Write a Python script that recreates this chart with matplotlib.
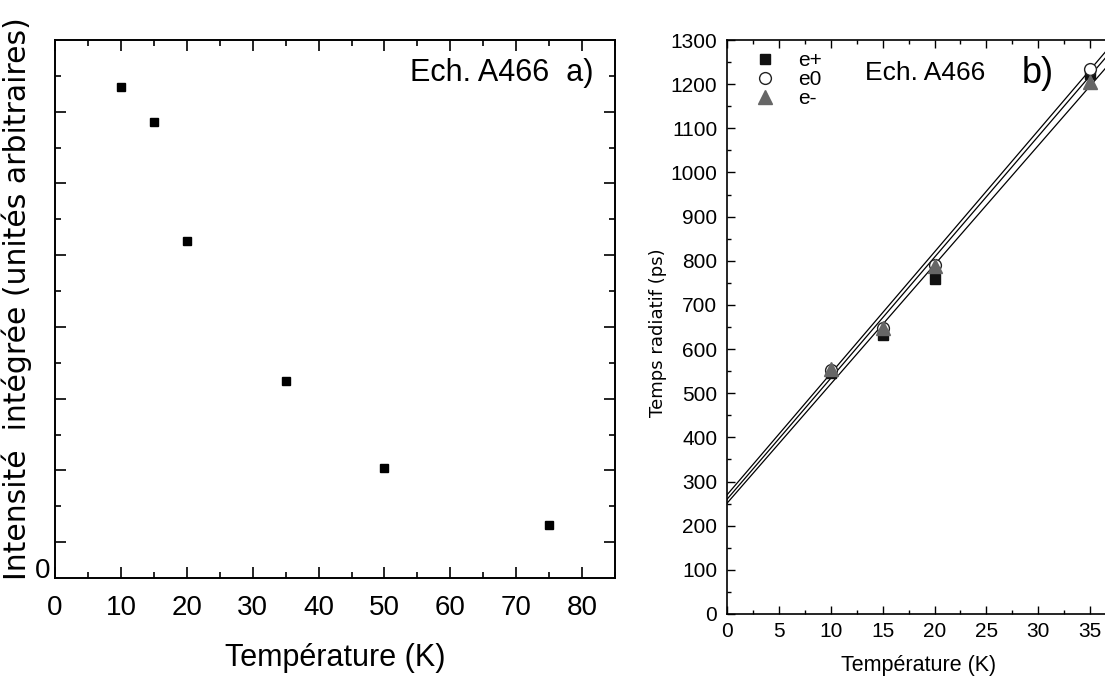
import matplotlib
matplotlib.use("Agg")
import matplotlib.pyplot as plt
import numpy as np
from matplotlib.ticker import MultipleLocator, NullFormatter

# panel a) : integrated intensity vs temperature (arbitrary units)
temp_a = [10, 15, 20, 35, 50, 75]
intensity_a = [6.85, 6.35, 4.70, 2.75, 1.53, 0.74]

# panel b) : radiative lifetime vs temperature
temp_b = [10, 15, 20, 35]
tau_eplus = [546, 631, 759, 1224]
tau_ezero = [553, 647, 790, 1234]
tau_eminus = [556, 647, 788, 1204]
# linear fits drawn in panel b) (intercept in ps, slope in ps/K)
fit_intercepts = [270, 260, 251]
fit_slopes = [27.5, 27.4, 27.0]

ARIAL = ['Liberation Sans', 'DejaVu Sans']

fig = plt.figure(figsize=(11.05, 6.78), dpi=100)

# ---------------- panel a)
ax1 = fig.add_axes([0.0498, 0.1475, 0.5068, 0.7935])
ax1.plot(temp_a, intensity_a, 's', color='black', markersize=6.3)
ax1.set_xlim(0, 85)
ax1.set_ylim(0, 7.5)
ax1.xaxis.set_major_locator(MultipleLocator(10))
ax1.xaxis.set_minor_locator(MultipleLocator(5))
ax1.set_yticks(np.arange(0.5, 7.0, 1.0))
ax1.set_yticks(np.arange(1.0, 7.5, 1.0), minor=True)
ax1.yaxis.set_major_formatter(NullFormatter())
ax1.tick_params(which='both', direction='in', top=True, right=True, width=1.2)
ax1.tick_params(which='major', length=8)
ax1.tick_params(which='minor', length=4)
ax1.tick_params(axis='x', which='major', pad=12, labelsize=20)
for lab in ax1.get_xticklabels():
    lab.set_family(ARIAL)
for s in ax1.spines.values():
    s.set_linewidth(1.4)
ax1.text(-0.008, 0, '0', transform=ax1.get_yaxis_transform(), ha='right',
         va='baseline', fontsize=20, family=ARIAL)
ax1.set_xlabel('Température (K)', fontsize=22, family=ARIAL, labelpad=16)
ax1.set_ylabel('Intensité  intégrée (unités arbitraires)', fontsize=21.5,
               family='DejaVu Sans')
ax1.yaxis.set_label_coords(-0.041, 0.52)
ax1.text(0.961, 0.939, 'Ech. A466  a)', transform=ax1.transAxes, ha='right',
         va='center', fontsize=22, family=ARIAL)

# ---------------- panel b)
ax2 = fig.add_axes([0.658, 0.0944, 0.3473, 0.8466])
tline = np.array([0, 40])
for a, b in zip(fit_intercepts, fit_slopes):
    ax2.plot(tline, a + b * tline, color='black', lw=0.9)
ax2.plot(temp_b, tau_eplus, 's', color='#111111', markersize=7.5, label='e+')
ax2.plot(temp_b, tau_ezero, 'o', mfc='white', mec='#222222', mew=1.0,
         markersize=8.5, label='e0')
ax2.plot(temp_b, tau_eminus, '^', color='#666666', markersize=9.5, label='e-')
ax2.set_xlim(0, 37)
ax2.set_ylim(0, 1300)
ax2.xaxis.set_major_locator(MultipleLocator(5))
ax2.xaxis.set_minor_locator(MultipleLocator(2.5))
ax2.yaxis.set_major_locator(MultipleLocator(100))
ax2.yaxis.set_minor_locator(MultipleLocator(50))
ax2.tick_params(which='both', direction='in', top=True, right=False, width=1.0)
ax2.tick_params(which='major', length=6, labelsize=15)
ax2.tick_params(which='minor', length=3)
ax2.tick_params(axis='x', which='major', pad=6)
ax2.tick_params(axis='y', which='major', pad=7)
for lab in ax2.get_xticklabels() + ax2.get_yticklabels():
    lab.set_family(ARIAL)
for s in ax2.spines.values():
    s.set_linewidth(1.2)
ax2.set_xlabel('Température (K)', fontsize=15.5, family=ARIAL, labelpad=10)
ax2.set_ylabel('Temps radiatif (ps)', fontsize=13, family='DejaVu Sans')
ax2.yaxis.set_label_coords(-0.156, 0.49)
ax2.legend(loc='upper left', bbox_to_anchor=(0.045, 0.995), frameon=False,
           prop={'family': ARIAL, 'size': 15}, handlelength=1.2,
           handletextpad=1.0, labelspacing=0.0, borderaxespad=0)
ax2.text(0.36, 0.9425, 'Ech. A466', transform=ax2.transAxes, ha='left',
         va='center', fontsize=19, family=ARIAL)
ax2.text(0.769, 0.9425, 'b)', transform=ax2.transAxes, ha='left',
         va='center', fontsize=26, family=ARIAL)

fig.savefig('out.png', dpi=100)
